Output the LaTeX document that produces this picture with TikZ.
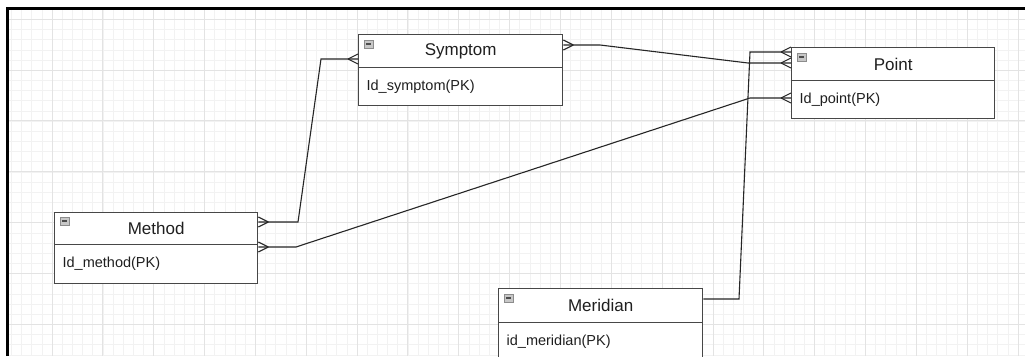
\documentclass[tikz,border=0pt]{standalone}
\usepackage{fontspec}
\setmainfont{Liberation Sans}
\begin{document}
\begin{tikzpicture}[x=1pt,y=-1pt,
  gridminor/.style={draw=black!5, line width=0.6pt},
  gridmajor/.style={draw=black!11, line width=0.8pt},
  entityhead/.style={draw=black!72, fill=white, line width=1.3pt, inner sep=0pt,
    anchor=north west, minimum width=204pt, font=\fontsize{17}{20}\selectfont, text=black!88},
  entitybody/.style={draw=black!72, fill=white, line width=1.3pt, inner xsep=8pt, inner ysep=0pt,
    anchor=north west, text width=188pt, align=left, minimum height=38pt,
    font=\fontsize{14.5}{17}\selectfont, text=black!88},
  relline/.style={draw=black!85, line width=1.1pt},
  crow/.pic={\draw[relline] (-10,0) -- (0,-5) (-10,0) -- (0,5);},
  collapsebtn/.pic={
    \draw[draw=black!45, fill=black!22, line width=0.6pt] (0,0) rectangle (9,8);
    \draw[black!70, line width=1.2pt] (2,4) -- (7,4);}
]
\useasboundingbox (0,0) rectangle (1025,356);
\clip (0,0) rectangle (1025,356);
\fill[white] (0,0) rectangle (1025,356);

% background grid
\begin{scope}
  \clip (9,10) rectangle (1025,356);
  \foreach \i in {0,...,101} {
    \draw[gridminor] ({1.16+\i*10.168},10) -- ++(0,346);
  }
  \foreach \i in {0,...,35} {
    \draw[gridminor] (9,{9.2+\i*10.168}) -- ++(1016,0);
  }
  \foreach \i in {0,...,20} {
    \draw[gridmajor] ({1.16+\i*50.84},10) -- ++(0,346);
  }
  \foreach \i in {0,...,7} {
    \draw[gridmajor] (9,{19.2+\i*50.84}) -- ++(1016,0);
  }
\end{scope}

% canvas frame
\draw[black, line width=3pt] (7.5,356) -- (7.5,8.8) -- (1025,8.8);

% entities
\node[entityhead, minimum height=33pt] (symh) at (358,34) {Symptom};
\node[entitybody] (symb) at (358,67) {Id\_symptom(PK)};

\node[entityhead, minimum width=203pt, minimum height=33pt] (pointh) at (791,47) {Point};
\node[entitybody, text width=187pt] (pointb) at (791,80) {Id\_point(PK)};

\node[entityhead, minimum width=203pt, minimum height=32pt] (methodh) at (54,212) {Method};
\node[entitybody, text width=187pt, minimum height=39pt] (methodb) at (54,244) {Id\_method(PK)};

\node[entityhead, minimum height=34pt] (merh) at (498,288) {Meridian};
\node[entitybody] (merb) at (498,322) {id\_meridian(PK)};

% collapse buttons
\pic at ([shift={(6,6)}]symh.north west) {collapsebtn};
\pic at ([shift={(6,6)}]pointh.north west) {collapsebtn};
\pic at ([shift={(6,5)}]methodh.north west) {collapsebtn};
\pic at ([shift={(6,6)}]merh.north west) {collapsebtn};

% connection ends
\coordinate (m1) at (methodh.east |- 0,222);
\coordinate (m2) at (methodb.east |- 0,247);
\coordinate (s1) at (symh.west |- 0,59);
\coordinate (s2) at (symh.east |- 0,45);
\coordinate (p1) at (pointh.west |- 0,52);
\coordinate (p2) at (pointh.west |- 0,63);
\coordinate (p3) at (pointb.west |- 0,98);
\coordinate (r1) at (merh.east |- 0,299);

% relationships
\draw[relline] (m1) -- (298,222) -- (321,59) -- (s1);
\draw[relline] (m2) -- (296,247) -- (750,98) -- (p3);
\draw[relline] (s2) -- (600,45) -- (748,63) -- (p2);
\draw[relline] (r1) -- (739,299) -- (750,52) -- (p1);

% crow's feet
\pic[rotate=180] at (m1) {crow};
\pic[rotate=180] at (m2) {crow};
\pic at (s1) {crow};
\pic[rotate=180] at (s2) {crow};
\pic at (p1) {crow};
\pic at (p2) {crow};
\pic at (p3) {crow};
\end{tikzpicture}
\end{document}
